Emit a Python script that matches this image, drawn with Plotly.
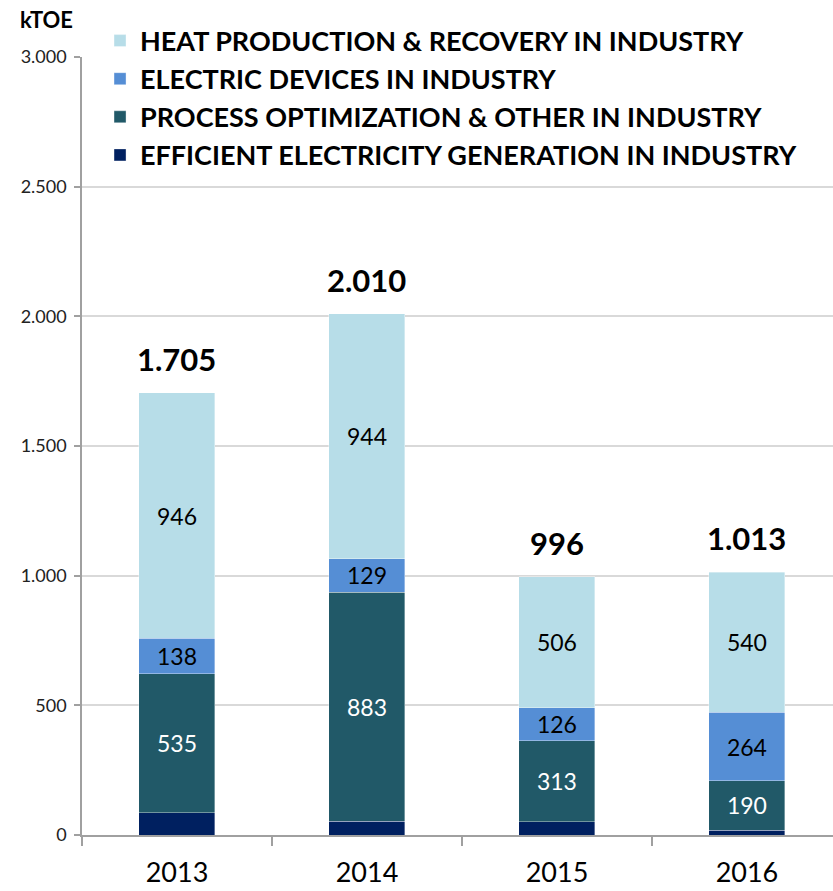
import plotly.graph_objects as go

years = ["2013", "2014", "2015", "2016"]
efficient = [86, 54, 51, 19]
process = [535, 883, 313, 190]
electric = [138, 129, 126, 264]
heat = [946, 944, 506, 540]
totals = [1705, 2010, 996, 1013]
total_labels = ["1.705", "2.010", "996", "1.013"]
y_tick_vals = [0, 500, 1000, 1500, 2000, 2500, 3000]
y_tick_text = ["0", "500", "1.000", "1.500", "2.000", "2.500", "3.000"]

names = [
    "EFFICIENT ELECTRICITY GENERATION IN INDUSTRY",
    "PROCESS OPTIMIZATION & OTHER IN INDUSTRY",
    "ELECTRIC DEVICES IN INDUSTRY",
    "HEAT PRODUCTION & RECOVERY IN INDUSTRY",
]
colors = ["#002060", "#215968", "#558ED5", "#B7DDE8"]
series = [efficient, process, electric, heat]
text_colors = [None, "white", "black", "black"]

FONT = "Lato"

fig = go.Figure()
for i, (nm, col, vals) in enumerate(zip(names, colors, series)):
    show_text = text_colors[i] is not None
    fig.add_trace(go.Bar(
        x=years, y=vals, name="<b>%s</b>" % nm,
        marker=dict(color=col, line=dict(color="rgba(255,255,255,0.45)", width=0.8)),
        width=0.4,
        text=[str(v) for v in vals] if show_text else None,
        textposition="inside" if show_text else "none",
        insidetextanchor="middle",
        textangle=0,
        constraintext="none",
        textfont=dict(family=FONT, size=23, color=text_colors[i] or "white"),
        legendrank=10 - i,
        legendgroup=str(i),
        hoverinfo="skip",
    ))

for idx, (tot, lab) in enumerate(zip(totals, total_labels)):
    fig.add_annotation(x=idx, y=tot, xref="x", yref="y",
                       text="<b>%s</b>" % lab, showarrow=False,
                       yanchor="bottom", yshift=13,
                       font=dict(family=FONT, size=31, color="black"))

fig.add_annotation(xref="paper", yref="paper", x=-0.085, y=1.0, yshift=22,
                   xanchor="left", yanchor="bottom", text="<b>kTOE</b>",
                   showarrow=False, font=dict(family=FONT, size=22, color="black"))

fig.update_layout(
    width=833, height=891,
    margin=dict(l=82, r=0, t=57, b=56, autoexpand=False),
    paper_bgcolor="white", plot_bgcolor="white",
    barmode="stack",
    font=dict(family=FONT, color="black"),
    showlegend=True,
    legend=dict(
        x=0.024, y=1.052, yanchor="top", xanchor="left", yref="paper",
        traceorder="grouped", tracegroupgap=0,
        bgcolor="white",
        font=dict(family=FONT, size=27, color="black"),
    ),
    xaxis=dict(
        type="category", range=[-0.5, 3.453], automargin=False,
        showline=True, linecolor="#A0A0A0", linewidth=1.5,
        ticks="outside", tickson="boundaries", ticklen=9, tickcolor="#A0A0A0", tickwidth=1.5,
        tickfont=dict(family=FONT, size=27, color="black"),
        ticklabelstandoff=13,
        showgrid=False,
    ),
    yaxis=dict(
        range=[0, 3000], tickvals=y_tick_vals, ticktext=y_tick_text, automargin=False,
        showline=True, linecolor="#A0A0A0", linewidth=1.5,
        ticks="outside", ticklen=6, tickcolor="#A0A0A0", tickwidth=1.5,
        tickfont=dict(family=FONT, size=18, color="#222222"),
        ticklabelstandoff=4,
        showgrid=True, gridcolor="#D9D9D9", gridwidth=1.5,
        zeroline=False,
    ),
)

fig.write_html("out.html")
